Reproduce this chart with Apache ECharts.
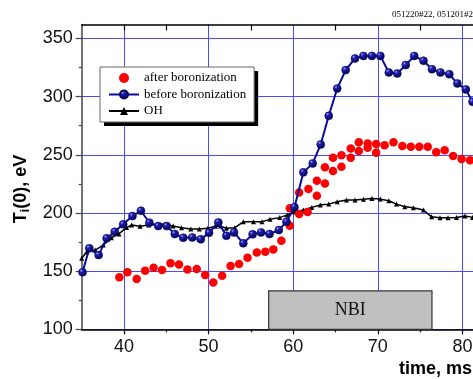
<!DOCTYPE html>
<html>
<head>
<meta charset="utf-8">
<script src="https://cdn.jsdelivr.net/npm/echarts@6/dist/echarts.min.js"></script>
<style>
  html, body { margin: 0; padding: 0; background: #fff; }
  #main { width: 473px; height: 379px; }
</style>
</head>
<body>
<div id="main"></div>
<script>
// after boronization (two shots overlap during NBI)
const afterT = [39.45, 40.4, 41.5, 42.5, 43.5, 44.5, 45.5, 46.5, 47.5, 48.6, 49.6, 50.55, 51.6, 52.6, 53.6,
  54.6, 55.7, 56.7, 57.65, 58.6, 59.6, 59.6, 60.7, 60.7, 61.7, 61.8, 62.8, 62.8, 63.75, 63.75,
  64.7, 64.7, 65.7, 65.7, 66.8, 66.8, 67.75, 67.75, 68.8, 68.8, 69.8, 69.8, 70.8, 71.85, 72.9,
  73.9, 74.9, 75.9, 76.9, 77.9, 78.9, 79.9, 80.9];
const afterTi = [144.7, 149.0, 143.2, 150.3, 152.9, 150.9, 156.7, 155.8, 151.5, 151.8, 146.6, 140.2, 146.0, 154.5, 156.1,
  161.5, 166.0, 166.7, 168.7, 176.1, 189.0, 204.0, 199.2, 217.6, 200.8, 220.5, 214.7, 227.6, 225.4, 239.2,
  236.0, 247.4, 239.7, 249.7, 247.4, 255.5, 253.2, 260.7, 256.0, 259.8, 251.7, 259.2, 258.3, 260.7, 257.5,
  256.9, 256.9, 256.9, 252.1, 254.0, 248.9, 246.3, 245.4];

// before boronization
const beforeT = [35.1, 35.9, 37.0, 37.95, 38.9, 39.9, 41.0, 42.0, 43.0, 44.05, 45.05, 46.0, 47.0, 48.07, 49.07,
  50.05, 51.15, 52.1, 53.0, 54.1, 55.2, 56.2, 57.2, 58.3, 59.2, 60.15, 61.2, 62.3, 63.25, 64.2,
  65.2, 66.2, 67.3, 68.3, 69.3, 70.3, 71.3, 72.3, 73.3, 74.3, 75.4, 76.4, 77.4, 78.45, 79.4, 80.4, 81.2];
const beforeTi = [149, 169.6, 163.8, 178.2, 183.8, 190.2, 197.3, 201.9, 191.6, 188.7, 188.7, 181.9, 178.7, 179.0, 177.3,
  183.0, 191.9, 180.4, 183.3, 173.9, 181.6, 183.3, 181.9, 185.3, 192.4, 205.0, 234.9, 242.6, 258.9, 283.5,
  307.0, 322.8, 332.8, 335.0, 335.0, 335.0, 320.8, 319.9, 327.1, 335.0, 330.8, 323.6, 320.8, 319.3, 311.3, 306.2, 295.5];

// OH
const ohT = [35.0, 35.6, 36.6, 37.55, 38.5, 39.4, 40.3, 40.9, 41.9, 42.9, 43.9, 44.8, 45.8, 46.8, 47.9,
  48.9, 49.9, 50.8, 51.4, 52.1, 53.1, 54.1, 55.3, 56.3, 57.25, 58.4, 59.3, 60.2, 61.2, 62.2,
  63.2, 64.2, 65.2, 66.3, 67.3, 68.3, 69.3, 70.3, 71.3, 72.2, 73.2, 74.2, 75.4, 76.35, 77.35,
  78.3, 79.3, 80.3, 81.2];
const ohTi = [161, 166.5, 168.1, 172.4, 178.7, 182.0, 187.5, 189.6, 188.5, 189.6, 190.3, 190.5, 188.7, 187.3, 186.2,
  186.2, 186.8, 188.5, 188.7, 186.8, 187.3, 192.4, 192.4, 192.4, 194.5, 196.0, 198.2, 200.8, 202.5, 204.8,
  206.8, 207.6, 209.6, 211.1, 211.1, 211.7, 212.5, 211.9, 210.5, 207.6, 205.3, 204.5, 202.5, 196.7, 195.9,
  195.9, 196.2, 197.3, 196.2];

const legendNames = ['after boronization', 'before boronization', 'OH'];
const xTicks = [40, 50, 60, 70, 80];
const xMinorTicks = [45, 55, 65, 75];
const yTicks = [100, 150, 200, 250, 300, 350];
const yMinorTicks = [125, 175, 225, 275, 325];
const nbiStart = 57.1, nbiEnd = 76.4, nbiTop = 133;

const zip = (a, b) => a.map((v, i) => [v, b[i]]);

const chart = echarts.init(document.getElementById('main'));
const gridBlue = '#4a4aff';
const sans = 'Liberation Sans, Arial, sans-serif';
const serif = 'Liberation Serif, Times New Roman, serif';
const xMax = 81.25; // picture is cut off at the right edge

const legendBase = {
  data: legendNames,
  orient: 'vertical', left: 100, top: 67,
  itemWidth: 30, itemHeight: 10, itemGap: 3.5,
  padding: [4.5, 8, 4.5, 8],
  selectedMode: false,
  textStyle: { fontFamily: serif, fontSize: 13, color: '#000' }
};

const option = {
  animation: false,
  backgroundColor: '#ffffff',
  grid: { left: 81.7, top: 24.5, right: 0, bottom: 49.7, containLabel: false, outerBoundsMode: 'none' },
  xAxis: [
    {
      type: 'value', min: 35, max: xMax, position: 'bottom',
      axisLine: { show: true, lineStyle: { color: '#000', width: 1.5 } },
      axisTick: { show: true, customValues: xTicks, length: 5, lineStyle: { color: '#000', width: 1.2 } },
      axisLabel: { customValues: xTicks, margin: 9, fontSize: 18, fontFamily: sans, color: '#111' },
      splitLine: { show: true, lineStyle: { color: gridBlue, width: 1 } }
    },
    {
      type: 'value', min: 35, max: xMax, position: 'bottom',
      axisLine: { show: false },
      axisTick: { show: true, customValues: xMinorTicks, length: 3, lineStyle: { color: '#000', width: 1.2 } },
      axisLabel: { show: false },
      splitLine: { show: false }
    },
    {
      type: 'value', min: 35, max: xMax, position: 'top',
      axisLine: { show: true, lineStyle: { color: '#000', width: 1.5 } },
      axisTick: { show: true, inside: true, customValues: [40, 45, 55, 65, 75], length: 6, lineStyle: { color: '#000', width: 1.2 } },
      axisLabel: { show: false },
      splitLine: { show: false }
    }
  ],
  yAxis: [
    {
      type: 'value', min: 100, max: 362, interval: 50, position: 'left',
      axisLine: { show: true, lineStyle: { color: '#444', width: 1.5 } },
      axisTick: { show: true, customValues: yTicks, length: 6, lineStyle: { color: '#444', width: 1.2 } },
      axisLabel: { customValues: yTicks, margin: 9, fontSize: 18, fontFamily: sans, color: '#111' },
      splitLine: { show: true, lineStyle: { color: gridBlue, width: 1 } }
    },
    {
      type: 'value', min: 100, max: 362, position: 'left',
      axisLine: { show: false },
      axisTick: { show: true, customValues: yMinorTicks, length: 3, lineStyle: { color: '#444', width: 1.2 } },
      axisLabel: { show: false },
      splitLine: { show: false }
    }
  ],
  legend: [
    // back copy: white box with hard black drop shadow, items hidden
    Object.assign({}, legendBase, {
      z: 18,
      backgroundColor: '#fff', borderWidth: 0,
      shadowColor: '#000', shadowBlur: 0, shadowOffsetX: 4, shadowOffsetY: 4,
      itemStyle: { opacity: 0 }, lineStyle: { opacity: 0 },
      textStyle: { fontFamily: serif, fontSize: 13, color: 'rgba(0,0,0,0)' }
    }),
    // front copy: border and visible items
    Object.assign({}, legendBase, {
      z: 20,
      backgroundColor: 'transparent', borderColor: '#666', borderWidth: 1
    })
  ],
  graphic: {
    elements: [
      { type: 'text', left: 392, top: 10, style: { text: '051220#22, 051201#22', font: '9px ' + serif, fill: '#000' } },
      { type: 'text', x: 472, y: 369, style: { text: 'time, ms', font: 'bold 18px ' + sans, fill: '#000', align: 'right', verticalAlign: 'middle' } },
      {
        type: 'text', x: 21, y: 189, rotation: Math.PI / 2,
        style: {
          text: 'T{s|i}(0), eV', font: 'bold 18px ' + sans, fill: '#000', align: 'center', verticalAlign: 'middle',
          rich: { s: { fontSize: 12, fontWeight: 'bold', fontFamily: sans, padding: [9, 0, 0, 0] } }
        }
      }
    ]
  },
  series: [
    {
      name: 'OH', type: 'line', z: 3,
      data: zip(ohT, ohTi),
      symbol: 'triangle', symbolSize: 5,
      lineStyle: { color: '#000', width: 1.5 },
      itemStyle: { color: '#000' }
    },
    {
      name: 'after boronization', type: 'scatter', z: 4,
      data: zip(afterT, afterTi),
      symbol: 'circle', symbolSize: 8.5,
      itemStyle: { color: '#ff0000', opacity: 1 },
      markArea: {
        silent: true,
        itemStyle: { color: '#c0c0c0', borderColor: '#333', borderWidth: 1.2, opacity: 1 },
        label: { show: true, position: 'inside', fontFamily: serif, fontSize: 18, color: '#111', formatter: 'NBI' },
        data: [[{ coord: [nbiStart, 100] }, { coord: [nbiEnd, nbiTop] }]]
      }
    },
    {
      name: 'before boronization', type: 'line', z: 5,
      data: zip(beforeT, beforeTi),
      symbol: 'circle', symbolSize: 8,
      lineStyle: { color: '#0a0aa0', width: 2 },
      itemStyle: {
        color: new echarts.graphic.RadialGradient(0.35, 0.3, 0.65, [
          { offset: 0, color: '#a0a0ff' },
          { offset: 0.3, color: '#2020b0' },
          { offset: 1, color: '#05055a' }
        ]),
        borderColor: '#05055a', borderWidth: 0.5
      }
    }
  ]
};
chart.setOption(option);
</script>
</body>
</html>
